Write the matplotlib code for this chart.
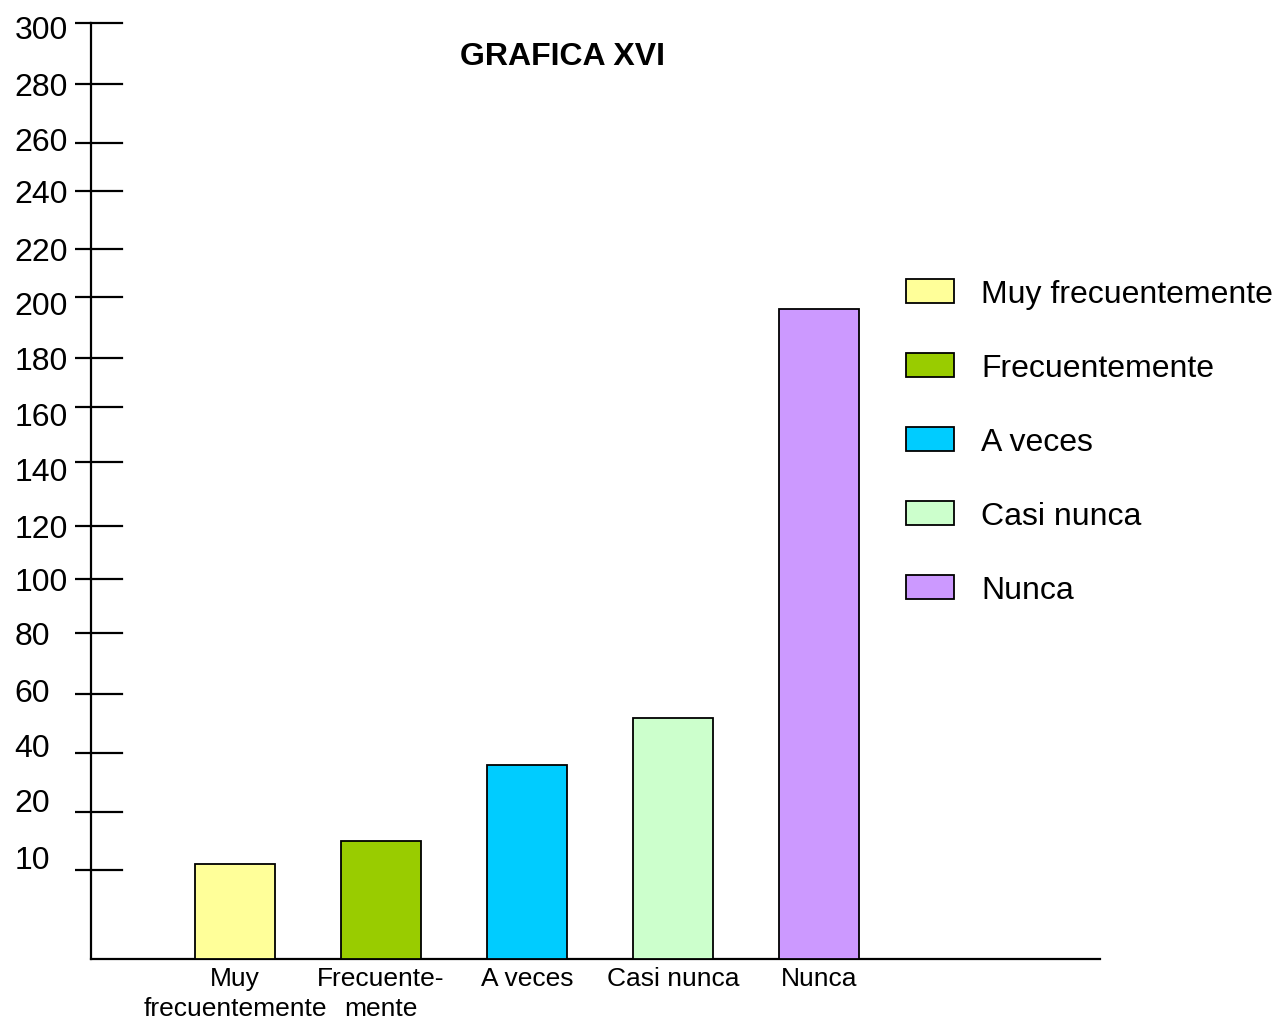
import numpy as np
import matplotlib
matplotlib.use("Agg")
import matplotlib.pyplot as plt
from matplotlib.scale import FuncScale
from matplotlib.transforms import ScaledTranslation, blended_transform_factory

plt.rcParams['font.family'] = ['Liberation Sans', 'DejaVu Sans']

# ---- data ----
categories = ["Muy frecuentemente", "Frecuentemente", "A veces", "Casi nunca", "Nunca"]
tick_names = ["Muy\nfrecuentemente", "Frecuente-\nmente", "A veces", "Casi nunca", "Nunca"]
values = [11, 15, 36, 52, 196]
colors = ["#FFFF99", "#99CC00", "#00CCFF", "#CCFFCC", "#CC99FF"]
title = "GRAFICA XVI"

# ---- hand-ruled value axis: the scale marks are not evenly spaced ----
y_ticks = [10, 20, 40, 60, 80, 100, 120, 140, 160, 180, 200, 220, 240, 260, 280, 300]
rule_values = [0, 10, 20, 40, 60, 80, 100, 120, 140, 160, 180, 200, 220, 240, 260, 280, 300]
rule_heights = [0, 89, 147, 206, 265, 326, 380, 433, 497, 552, 601, 662, 710, 768, 816, 875, 936]


def forward(v):
    return np.interp(v, rule_values, rule_heights)


def inverse(h):
    return np.interp(h, rule_heights, rule_values)


fig = plt.figure(figsize=(12.8, 10.2), dpi=100)
ax = fig.add_axes([91 / 1280, 1 - 960 / 1020, (1100 - 91) / 1280, (960 - 24) / 1020])

ax.set_yscale(FuncScale(ax, (forward, inverse)))
ax.set_ylim(0, 300)

x = np.arange(len(categories))
ax.bar(x, values, width=0.55, color=colors, edgecolor="black", linewidth=1.3,
       label=categories, zorder=3)
ax.set_xlim(-0.986, 5.925)

# spines
for side in ("top", "right"):
    ax.spines[side].set_visible(False)
for side in ("left", "bottom"):
    ax.spines[side].set_linewidth(1.6)
    ax.spines[side].set_color("black")

# x tick labels, no tick marks
ax.set_xticks(x)
ax.set_xticklabels(tick_names, fontsize=19, linespacing=1.3)
ax.tick_params(axis="x", length=0, pad=5)

# y ticks: outer part via matplotlib ticks, inner part drawn as short rules
ax.set_yticks(y_ticks)
ax.set_yticklabels([str(v) for v in y_ticks], fontsize=23)
ax.yaxis.set_minor_locator(matplotlib.ticker.NullLocator())
ax.tick_params(axis="y", direction="out", length=11.5, width=1.6, pad=5)
trans = blended_transform_factory(ax.transAxes, ax.transData)
for v in y_ticks:
    ax.plot([0, 31 / 1009], [v, v], color="black", linewidth=1.6,
            transform=trans, clip_on=False, zorder=4)

# lower labels sit further from the axis
label_nudge = {10: (-18, 13), 20: (-18, 12), 40: (-18, 8), 60: (-18, 4), 80: (-18, 0),
               140: (0, -7), 160: (0, -7), 200: (0, -6), 260: (0, 4), 300: (0, -4)}
for lab, v in zip(ax.get_yticklabels(), y_ticks):
    dx, dy = label_nudge.get(v, (0, 0))
    lab.set_transform(lab.get_transform() + ScaledTranslation(dx / 100, dy / 100, fig.dpi_scale_trans))

# title
fig.text(562 / 1280, 1 - 57 / 1020, title, fontsize=23, fontweight="bold",
         ha="center", va="center")

# legend
ax.legend(loc="upper left", bbox_to_anchor=(906 / 1280, 1 - 280 / 1020),
          bbox_transform=fig.transFigure, frameon=False, fontsize=23,
          handlelength=1.5, handleheight=0.75, handletextpad=0.85,
          labelspacing=1.38, borderpad=0, borderaxespad=0)

fig.savefig("out.png", dpi=100, facecolor="white")
